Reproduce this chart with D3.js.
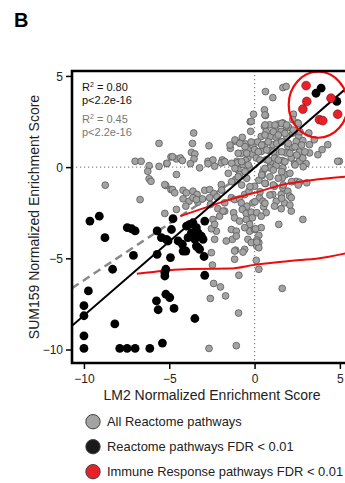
<!DOCTYPE html>
<html>
<head>
<meta charset="utf-8">
<script src="https://cdn.jsdelivr.net/npm/d3@7"></script>
<style>
  body { margin: 0; background: #fff; }
  svg { display: block; font-family: "Liberation Sans", Arial, sans-serif; }
</style>
</head>
<body>
<div id="chart"></div>
<script>
// LM2 vs SUM159 normalized enrichment scores, [lm2, sum159]
const allPathways = [
  [-5.6,1.3],[-7.0,0.32],[-6.65,0.32],[-6.18,0.08],[-6.26,-0.23],[-5.6,0.04],[-5.15,0.19],[-4.9,0.56],
  [-6.18,-0.64],[-6.07,-0.78],[-8.75,-0.99],[-5.2,-1.01],[-4.9,-1.23],[-6.71,-1.78],[-4.58,0.45],
  [-0.25,2.49],[-3.57,1.87],[-3.64,1.3],[-2.67,1.17],[-1.42,1.03],[-1.11,1.41],[-0.72,1.63],[-0.53,1.27],
  [-0.33,0.99],[-0.1,1.17],[-0.78,0.75],[-0.39,0.5],[-0.13,0.72],[-3.7,0.81],[-3.5,0.72],[-3.55,0.45],
  [-4.81,0.57],[-4.35,0.5],[-4.23,0.36],[-5.13,0.21],[-2.73,0.32],[-2.44,0.39],[-1.89,0.39],[-1.03,0.32],[-0.53,0.36],
  [-5.26,-0.96],[-4.81,-1.23],[-4.68,-1.41],[-4.19,-1.27],[-4.0,-1.41],[-3.61,-1.32],[-3.37,-1.5],[-2.92,-1.27],
  [-2.63,-1.23],[-2.38,-1.45],[-1.95,-0.96],[-4.19,-1.74],[-3.84,-1.87],[-3.61,-1.68],[-3.32,-1.92],[-3.06,-1.74],
  [-2.63,-1.68],[-2.59,-2.05],[-2.2,-1.63],[-1.75,-1.96],[-1.36,-1.68],[-1.17,-1.78],[-0.88,-1.74],[-0.58,-1.5],
  [-0.33,-1.32],[-0.78,-1.96],[-0.45,-2.14],[-0.1,-1.96],[-5.26,-2.54],[-4.58,-2.32],[-1.75,-2.41],[-1.23,-2.5],
  [-0.72,-2.32],[-0.49,-2.54],[-0.19,-2.47],[-1.17,-2.78],[-0.88,-2.96],[-0.49,-2.87],[-0.29,-3.14],[-1.36,-3.42],
  [-1.07,-3.51],[-1.3,-3.96],[-0.39,-3.96],[-0.19,-4.14],[-0.58,-4.51],[-1.11,-4.55],[-0.29,-3.51],[-2.05,-2.69],
  [-3.76,0.19],[-3.22,-0.04],[-2.73,0.19],[-2.34,0.05],[-1.95,0.23],[-1.03,0.23],[-0.97,-0.14],[-0.68,0.14],
  [-0.29,-0.04],[-0.88,-0.41],[-1.11,-0.68],[-4.58,-0.41],
  [-4.03,-2.14],[-3.41,-1.78],[-2.15,-2.28],[-1.66,-4.05],
  [-1.07,-3.78],[-0.58,-3.32],[0,-3.42],[0.25,-3.74],[-2.34,-3.96],[-2.24,-3.51],[-2.53,-3.38],[-2.44,-2.87],
  [-2.34,-3.14],[-1.85,-2.41],[-1.17,-4.6],[-0.68,-4.66],[0.13,-4.33],[0.25,-4.14],
  [-2.53,-4.69],[-2.47,-5.37],[-1.17,-5.05],[-0.92,-5.93],[0.1,-5.11],[0.25,-5.6],[0.25,-4.42],[0.13,-4.0],
  [1.62,-6.65],[-0.94,-8.0],[-1.07,-9.79],[-2.4,-6.38],[-2.0,-6.57],[-2.59,-7.2],[-1.7,-7.06],[-2.67,-9.94],
  [2.34,0.19],[2.63,0.32],[3.02,0.19],[4.97,0.32],[0.92,0.26],[1.27,0.08],[0.88,-0.04],[0.49,-0.23],[0.45,-0.46],
  [1.66,-0.04],[1.81,-0.41],[1.62,-0.59],[0.25,-0.72],[0.64,-0.9],[0,-1.05],[2.44,-0.78],[2.63,-0.83],[3.06,-0.86],
  [1.17,-1.05],[1.66,-1.14],[1.95,-1.32],[1.07,-1.5],[1.56,-1.5],[2.05,-1.59],[2.15,-1.68],[0.29,-1.68],[0.49,-1.87],
  [1.27,-1.87],[1.75,-1.96],[1.17,-2.14],[1.56,-2.28],[0.53,-2.18],[0.68,-2.5],[0.13,-2.5],[0.39,-2.69],[-0.13,-2.78],
  [2.15,-2.41],[2.83,-2.87],[1.42,-3.14],[0.39,-3.32],[0.06,-3.38],[0.13,-4.11],
  [1.66,4.36],[1.85,4.42],[0.64,4.14],[1.07,3.81],[0.58,3.14],[0.64,2.83],[-0.06,2.9],[-0.2,2.51],[2.28,2.9],
  [2.24,2.6],[2.53,2.42],[2.0,2.18],[0.58,2.23],[0.88,2.32],[1.36,2.36],[1.66,2.42],[1.85,2.23],[0.68,1.96],
  [1.23,1.99],[1.56,1.96],[0.39,1.68],[0.92,1.68],[1.27,1.63],[1.89,1.68],[2.24,1.87],[2.59,1.68],[2.83,1.45],
  [3.18,1.87],[3.22,1.23],[4.29,1.23],[3.96,0.96],[4.87,0.32],[3.5,1.5],[2.44,1.41],[0.19,1.38],[0.58,1.23],
  [1.07,1.23],[1.56,1.38],[1.95,1.14],[2.24,1.08],[0,0.96],[0.39,0.86],[0.88,0.9],[1.36,0.83],[1.85,0.78],
  [2.63,0.83],[3.22,0.78],[0.1,0.5],[0.68,0.41],[1.17,0.5],[1.62,0.36],[2.15,0.5],[2.83,0.5],[3.71,0.68],
  [-0.23,1.96],[-0.2,1.38],
  [0.61,2.86],[0.61,2.31],[1.2,2.31],[1.59,2.4],[1.88,2.31],[2.56,2.4],[0.61,1.76],[1.1,1.94],[1.39,1.76],
  [1.78,1.85],[2.27,2.03],[2.66,1.94],[0.8,1.39],[1.3,1.3],[1.59,1.39],[1.98,1.3],[2.37,1.12],[2.76,1.21],
  [2.95,0.84],[2.47,0.66],[2.07,0.76],[1.59,0.84],[1.1,0.84],[0.71,0.94],[0.42,1.21],[0.22,0.84],[0.32,0.39],
  [0.8,0.39],[1.39,0.39],[1.78,0.3],[2.37,0.12],[2.85,0.02],[0.61,-0.07],[1.1,-0.16],[1.59,-0.25],[2.07,-0.34],
  [0.42,-0.43],[0.9,-0.53],[1.39,-0.61],[2.17,-0.8],[0.61,-0.89],[1.1,-0.98],[1.68,-0.98],[2.56,-0.98],
  [-1.15,1.49],[-1.44,1.21],[-0.86,1.3],[-0.56,1.12],[-0.96,0.76],[-0.46,0.76],[-1.74,0.3],[-1.34,0.21],
  [-0.76,0.3],[-0.37,0.12],[-1.15,-0.07],[-0.56,-0.25],[-1.54,-0.34],[-0.96,-0.53],[-0.46,-0.61],[-1.34,-0.8],
  [-0.76,-0.98],[-0.27,-1.07],[-1.93,-1.26],[0.32,-1.35],[0.9,-1.53],[1.59,-1.71],[0.02,-1.9],[0.61,-1.98],[2.07,-2.08]
];

const fdrPathways = [
  [-9.65,-2.96],[-9.1,-2.69],[-8.77,-3.87],[-7.46,-3.32],[-7.2,-3.38],[-7.0,-3.5],[-7.1,-4.84],[-8.32,-5.6],
  [-9.74,-6.79],[-10,-7.6],[-10,-8.15],[-10,-9.25],[-10,-9.94],[-8.19,-8.6],[-7.9,-9.94],[-7.47,-9.94],
  [-7.0,-9.94],[-6.14,-9.94],[-5.4,-9.65],[-5.71,-4.78],[-5.71,-3.5],[-5.46,-3.87],[-5.17,-3.96],[-4.87,-3.42],
  [-4.78,-2.83],[-5.07,-4.05],[-4.93,-4.96],[-5.2,-5.6],[-5.26,-5.97],[-5.26,-5.78],[-5.2,-6.97],[-4.97,-7.15],
  [-5.75,-7.33],[-5.65,-7.82],[-4.72,-7.75],[-3.5,-8.3],[-4.48,-4.05],[-4.23,-4.23],[-4.19,-4.6],[-4.03,-4.6],
  [-3.99,-3.23],[-3.8,-3.14],[-3.61,-3.05],[-3.41,-3.32],[-3.7,-3.6],[-3.31,-3.6],[-3.9,-3.87],[-3.5,-3.96],
  [-3.12,-3.78],[-3.02,-3.96],[-3.41,-4.33],[-3.22,-4.51],[-2.96,-4.9],[-2.92,-5.93],[-2.92,-2.96],[-3.31,-4.42],
  [3.9,4.33],[3.6,4.05],[4.82,3.6]
];

const immunePathways = [
  [3.02,4.47],[3.06,3.6],[2.83,3.18],[4.48,3.78],[3.8,2.6],[4.0,2.55],[4.87,2.9]
];

// red smooth curves
const upperCurve = [[-4.35,-2.69],[-2.63,-2.14],[-1.46,-1.78],[0,-1.41],[1.66,-0.96],[3.6,-0.68],[5.4,-0.52]];
const lowerCurve = [[-6.9,-5.85],[-3.8,-5.58],[-1.46,-5.56],[0,-5.36],[2.05,-5.15],[3.8,-5.0],[5.4,-4.72]];

// fits: [slope, intercept, xStart, xEnd]
const fitFdr = [0.81, -0.03, -10.7, 5.4];
const fitAll = [0.62, 0.0, -10.7, 0.2];

const statsText = [
  { r2: '0.80', p: 'p<2.2e-16', color: '#111' },
  { r2: '0.45', p: 'p<2.2e-16', color: '#777' }
];

const xTicks = [-10, -5, 0, 5];
const yTicks = [5, 0, -5, -10];

const legendItems = [
  { label: 'All Reactome pathways', fill: '#a3a3a3' },
  { label: 'Reactome pathways FDR < 0.01', fill: '#1a1a1a' },
  { label: 'Immune Response pathways FDR < 0.01', fill: '#e8202a' }
];

const width = 345, height = 483;
const plot = { left: 72, top: 71, right: 348, bottom: 363 };

const svg = d3.select('#chart').append('svg')
  .attr('width', width).attr('height', height);

const x = d3.scaleLinear().domain([-10.7, 5.3]).range([plot.left, plot.left + 273]);
const y = d3.scaleLinear().domain([-10.74, 5.27]).range([plot.bottom, plot.top]);

svg.append('text').attr('x', 14).attr('y', 27)
  .attr('font-size', 20).attr('font-weight', 'bold').text('B');

svg.append('clipPath').attr('id', 'clip')
  .append('rect').attr('x', plot.left).attr('y', plot.top)
  .attr('width', plot.right - plot.left).attr('height', plot.bottom - plot.top);

const g = svg.append('g').attr('clip-path', 'url(#clip)');

// zero lines
g.append('line').attr('x1', x(0)).attr('x2', x(0)).attr('y1', plot.top).attr('y2', plot.bottom)
  .attr('stroke', '#888').attr('stroke-width', 1.2).attr('stroke-dasharray', '1.2,2.8');
g.append('line').attr('x1', plot.left).attr('x2', plot.right).attr('y1', y(0)).attr('y2', y(0))
  .attr('stroke', '#888').attr('stroke-width', 1.2).attr('stroke-dasharray', '1.2,2.8');

const fitLine = f => [[f[2], f[0] * f[2] + f[1]], [f[3], f[0] * f[3] + f[1]]];
const line = d3.line().x(d => x(d[0])).y(d => y(d[1]));
const smooth = d3.line().x(d => x(d[0])).y(d => y(d[1])).curve(d3.curveMonotoneX);

g.append('path').attr('d', line(fitLine(fitAll)))
  .attr('stroke', '#8a8a8a').attr('stroke-width', 2.5).attr('stroke-dasharray', '8,5').attr('fill', 'none');

g.selectAll('.gray').data(allPathways).enter().append('circle')
  .attr('cx', d => x(d[0])).attr('cy', d => y(d[1])).attr('r', 3.4)
  .attr('fill', '#a3a3a3').attr('stroke', '#5a5a5a').attr('stroke-width', 0.8);

[upperCurve, lowerCurve].forEach(c => {
  g.append('path').attr('d', smooth(c))
    .attr('stroke', '#f00a0a').attr('stroke-width', 2).attr('fill', 'none');
});

g.append('path').attr('d', line(fitLine(fitFdr)))
  .attr('stroke', '#000').attr('stroke-width', 2).attr('fill', 'none');

g.selectAll('.black').data(fdrPathways).enter().append('circle')
  .attr('cx', d => x(d[0])).attr('cy', d => y(d[1])).attr('r', 4.4)
  .attr('fill', '#000');

g.selectAll('.red').data(immunePathways).enter().append('circle')
  .attr('cx', d => x(d[0])).attr('cy', d => y(d[1])).attr('r', 4.4)
  .attr('fill', '#e8202a').attr('stroke', '#7a1010').attr('stroke-width', 0.6);

g.append('ellipse').attr('cx', x(3.73)).attr('cy', y(3.42)).attr('rx', 29.5).attr('ry', 33)
  .attr('fill', 'none').attr('stroke', '#f00a0a').attr('stroke-width', 2.2);

// axes
const xAxis = d3.axisBottom(x).tickValues(xTicks).tickSize(5).tickFormat(d3.format('d'));
const yAxis = d3.axisLeft(y).tickValues(yTicks).tickSize(5).tickFormat(d3.format('d'));

const gx = svg.append('g').attr('transform', `translate(0,${plot.bottom + 1})`).call(xAxis);
const gy = svg.append('g').attr('transform', `translate(${plot.left - 1},0)`).call(yAxis);
[gx, gy].forEach(a => {
  a.select('.domain').remove();
  a.selectAll('.tick line').attr('stroke', '#000').attr('stroke-width', 1.5);
  a.selectAll('.tick text').attr('font-size', 12).attr('fill', '#222')
    .attr('font-family', '"Liberation Sans", Arial, sans-serif');
});
gx.selectAll('.tick text').attr('dy', '0.95em');
gy.selectAll('.tick text').attr('dy', '0.35em');

// frame (left, top, bottom)
svg.append('path')
  .attr('d', `M${plot.right},${plot.top}H${plot.left}V${plot.bottom}H${plot.right}`)
  .attr('fill', 'none').attr('stroke', '#000').attr('stroke-width', 2.6);

// stats
statsText.forEach((s, i) => {
  const t = svg.append('text').attr('x', 82).attr('y', 91 + i * 32)
    .attr('font-size', 11).attr('fill', s.color);
  t.append('tspan').text('R');
  t.append('tspan').attr('font-size', 7).attr('dy', -4).text('2');
  t.append('tspan').attr('dy', 4).text(' = ' + s.r2);
  svg.append('text').attr('x', 82).attr('y', 104 + i * 32)
    .attr('font-size', 11).attr('fill', s.color).text(s.p);
});

// axis titles
svg.append('text').attr('x', 212).attr('y', 400).attr('text-anchor', 'middle')
  .attr('font-size', 14).attr('fill', '#222').text('LM2 Normalized Enrichment Score');
svg.append('text').attr('transform', 'translate(39,217) rotate(-90)').attr('text-anchor', 'middle')
  .attr('font-size', 14).attr('fill', '#222').text('SUM159 Normalized Enrichment Score');

// legend
const leg = svg.selectAll('.leg').data(legendItems).enter().append('g')
  .attr('transform', (d, i) => `translate(93,${421.7 + i * 25})`);
leg.append('circle').attr('r', 7.2).attr('fill', d => d.fill)
  .attr('stroke', '#444').attr('stroke-width', 1);
leg.append('text').attr('x', 14).attr('dy', '0.35em').attr('font-size', 12.9)
  .attr('fill', '#222').text(d => d.label);
</script>
</body>
</html>
